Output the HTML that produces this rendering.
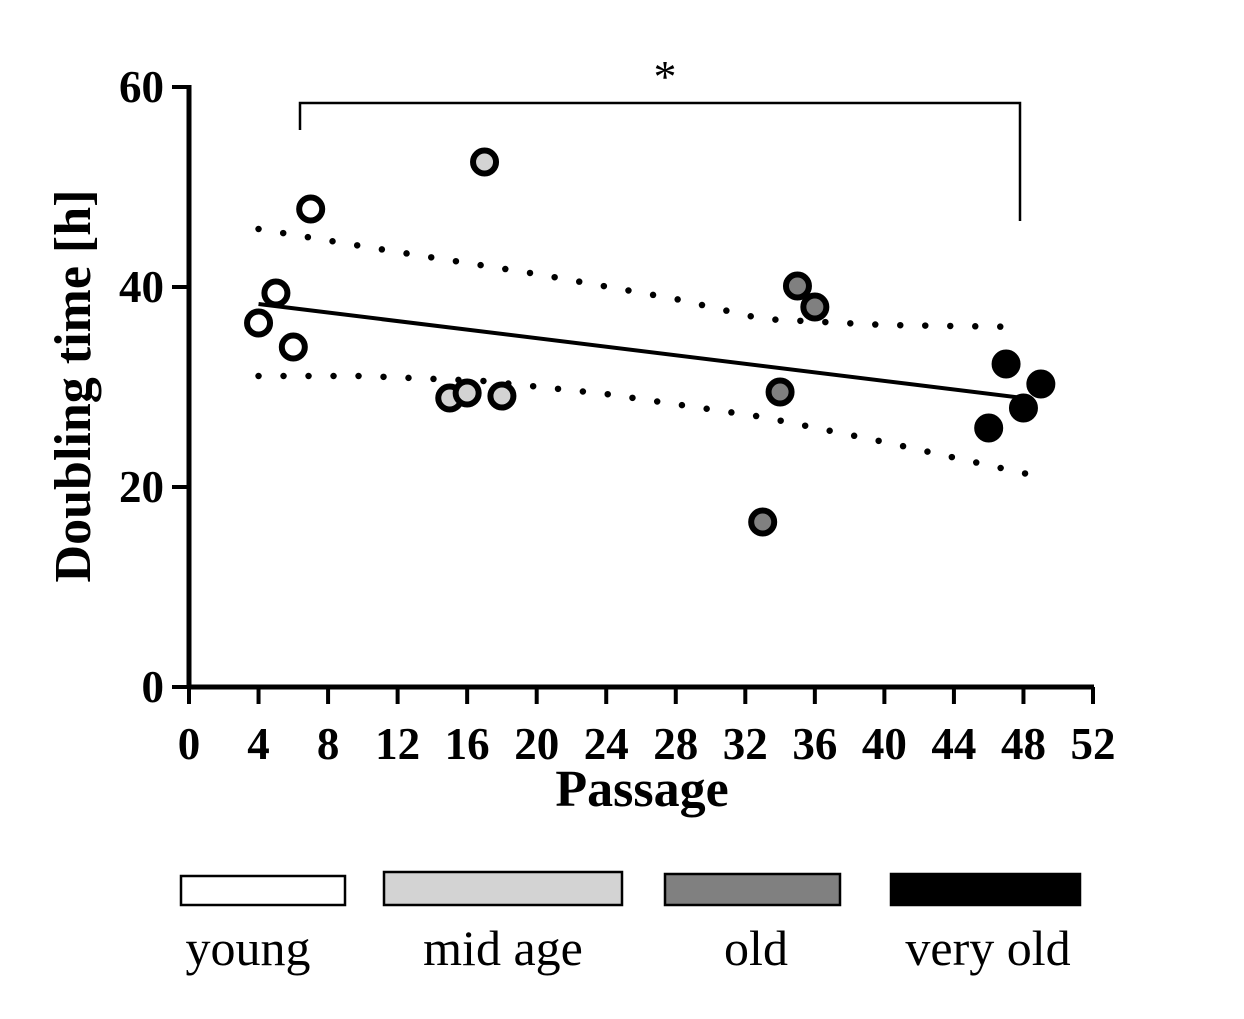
<!DOCTYPE html>
<html><head><meta charset="utf-8"><style>
html,body{margin:0;padding:0;background:#fff}
svg{display:block}
text{font-family:"Liberation Serif",serif}
</style></head><body>
<svg id="chart" width="1244" height="1019" viewBox="0 0 1244 1019">
<g id="axes"></g>
<g id="fits"></g>
<g id="points"></g>
<g>
<polyline points="300,130 300,103 1020,103 1020,221" fill="none" stroke="#000" stroke-width="2.5"/>
<text x="665" y="92" font-size="46" text-anchor="middle">*</text>
</g>
<text x="642" y="806" font-size="52" font-weight="bold" text-anchor="middle">Passage</text>
<text transform="translate(90,386) rotate(-90)" font-size="52" font-weight="bold" text-anchor="middle">Doubling time [h]</text>
<g>
<g><rect x="181" y="876" width="164" height="29" fill="#fff" stroke="#000" stroke-width="2.5"/><text x="248" y="965" font-size="50" text-anchor="middle">young</text></g>
<g><rect x="384" y="872" width="238" height="33" fill="#d3d3d3" stroke="#000" stroke-width="2.5"/><text x="503" y="965" font-size="50" text-anchor="middle">mid age</text></g>
<g><rect x="665" y="874" width="175" height="31" fill="#808080" stroke="#000" stroke-width="2.5"/><text x="756" y="965" font-size="50" text-anchor="middle">old</text></g>
<g><rect x="891" y="874" width="189" height="31" fill="#000" stroke="#000" stroke-width="2.5"/><text x="988" y="965" font-size="50" text-anchor="middle">very old</text></g>
</g>
</svg>
<script>
const xTicks=[0,4,8,12,16,20,24,28,32,36,40,44,48,52];
const yTicks=[0,20,40,60];
const groups=["young","mid age","old","very old"];
const groupFills=["#ffffff","#d3d3d3","#808080","#000000"];
const passage=[4,5,6,7,15,16,17,18,33,34,35,36,46,47,48,49];
const doubling=[36.4,39.4,34,47.8,28.9,29.4,52.5,29.1,16.5,29.5,40.1,38,25.9,32.3,27.9,30.3];
const groupIdx=[0,0,0,0,1,1,1,1,2,2,2,2,3,3,3,3];
const fitX=[4,48];
const fitY=[38.3,28.9];
const upperX=[4,12,20,28,33,40,48];
const upperY=[45.8,43.5,41.3,38.8,36.8,36.2,36];
const lowerX=[4,10,17,24,33,40,49];
const lowerY=[31.1,31.1,30.6,29.3,27,24.5,21];
const X=v=>189+v*(1093-189)/52;
const Y=v=>687-v*10;
const NS="http://www.w3.org/2000/svg";
function mk(t,a,p){const e=document.createElementNS(NS,t);for(const k in a)e.setAttribute(k,a[k]);p.appendChild(e);return e;}
const ax=document.getElementById('axes');
const xa=mk('line',{x1:187,y1:687,x2:1094,y2:687,stroke:'#000','stroke-width':5},ax);


const ya=mk('line',{x1:189,y1:85,x2:189,y2:689,stroke:'#000','stroke-width':5},ax);


xTicks.forEach(t=>{
 mk('line',{x1:X(t),y1:687,x2:X(t),y2:704,stroke:'#000','stroke-width':4},ax);
 const tx=mk('text',{x:X(t),y:759,'font-size':45,'font-weight':'bold','text-anchor':'middle'},ax);
 tx.textContent=t;
 
 
});
yTicks.forEach(t=>{
 mk('line',{x1:172,y1:Y(t),x2:189,y2:Y(t),stroke:'#000','stroke-width':4},ax);
 const tx=mk('text',{x:164,y:Y(t)+15,'font-size':45,'font-weight':'bold','text-anchor':'end'},ax);
 tx.textContent=t;
 
 
});
const fg=document.getElementById('fits');
const fl=mk('line',{x1:X(fitX[0]),y1:Y(fitY[0]),x2:X(fitX[1]),y2:Y(fitY[1]),stroke:'#000','stroke-width':4},fg);


function curve(xs,ys,name){
 const p=mk('polyline',{points:xs.map((x,i)=>X(x)+','+Y(ys[i])).join(' '),fill:'none',stroke:'#000','stroke-width':6.5,'stroke-linecap':'round','stroke-dasharray':'0 25'},fg);
 
 
}
curve(upperX,upperY,'upper-confidence-band');
curve(lowerX,lowerY,'lower-confidence-band');
const pg=document.getElementById('points');
passage.forEach((p,i)=>{
 const c=mk('circle',{cx:X(p),cy:Y(doubling[i]),r:11.5,fill:groupFills[groupIdx[i]],stroke:'#000','stroke-width':6},pg);
 
 
});
</script>
</body></html>
